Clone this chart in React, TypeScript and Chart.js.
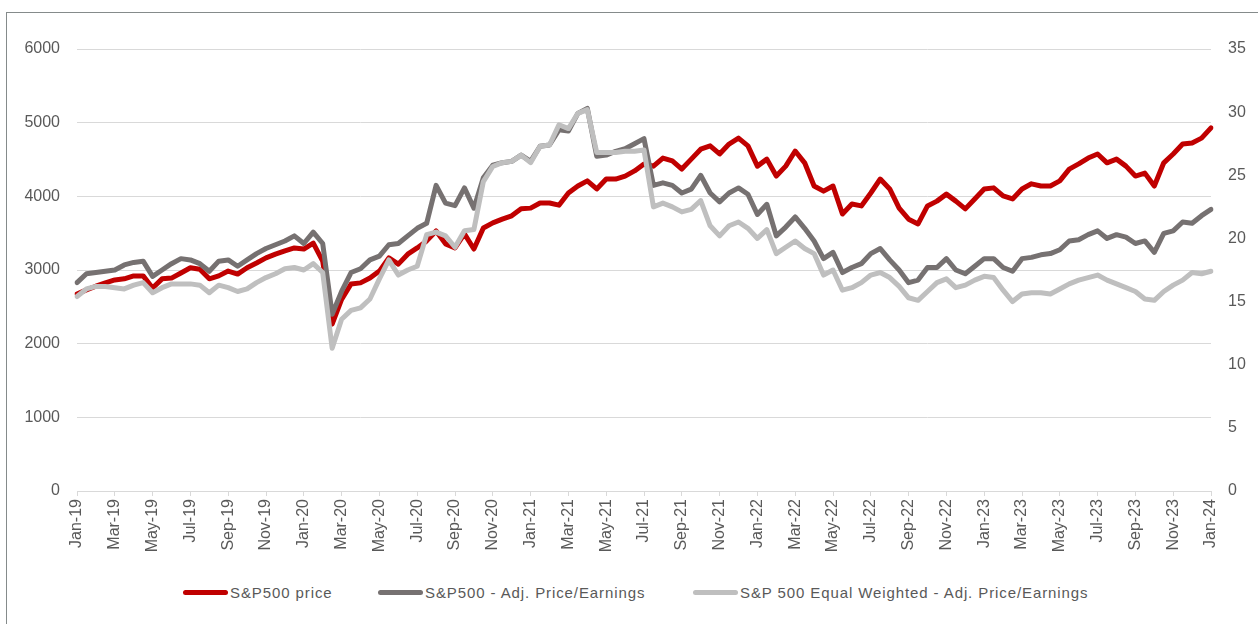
import React, { useEffect, useRef } from "react";
import { Chart, registerables } from "chart.js";

Chart.register(...registerables);

const MONTH_NAMES = ["Jan", "Feb", "Mar", "Apr", "May", "Jun", "Jul", "Aug", "Sep", "Oct", "Nov", "Dec"];
const START_YEAR = 2019;
const POINTS_PER_MONTH = 2; // observations on the 1st and 15th of each month
const N_POINTS = 121;

// Categories: semi-monthly observation dates, Jan-2019 .. Jan-2024
const DATES: string[] = Array.from({ length: N_POINTS }, (_, i) => {
  const m = Math.floor(i / POINTS_PER_MONTH);
  const y = START_YEAR + Math.floor(m / 12);
  const mm = String((m % 12) + 1).padStart(2, "0");
  return `${y}-${mm}-${i % 2 === 0 ? "01" : "15"}`;
});

const SERIES_NAMES = [
  "S&P500 price",
  "S&P500 - Adj. Price/Earnings",
  "S&P 500 Equal Weighted - Adj. Price/Earnings",
];

const SP500_PRICE = [
  2675, 2730, 2780, 2825, 2865, 2880, 2920, 2920, 2755, 2880,
  2890, 2960, 3030, 3010, 2880, 2920, 2985, 2945, 3030, 3095,
  3165, 3215, 3260, 3300, 3285, 3365, 3120, 2265, 2600, 2810,
  2825, 2890, 2985, 3165, 3080, 3215, 3300, 3395, 3530, 3355,
  3300, 3490, 3285, 3570, 3640, 3690, 3735, 3830, 3840, 3910,
  3910, 3880, 4045, 4140, 4210, 4100, 4235, 4235, 4275, 4345,
  4440, 4410, 4520, 4480, 4370, 4505, 4640, 4685, 4575, 4710,
  4790, 4685, 4410, 4505, 4275, 4410, 4615, 4455, 4140, 4070,
  4140, 3760, 3895, 3870, 4045, 4235, 4100, 3840, 3690, 3625,
  3870, 3935, 4030, 3935, 3830, 3965, 4100, 4115, 4005, 3965,
  4100, 4170, 4140, 4140, 4210, 4370, 4440, 4520, 4575, 4455,
  4505, 4410, 4275, 4315, 4140, 4455, 4575, 4710, 4725, 4790,
  4930,
];

const SP500_PE = [
  16.5, 17.2, 17.3, 17.4, 17.5, 17.9, 18.1, 18.2, 17.0, 17.5,
  18.0, 18.4, 18.3, 18.0, 17.4, 18.2, 18.3, 17.8, 18.3, 18.8,
  19.2, 19.5, 19.8, 20.2, 19.6, 20.5, 19.6, 14.0, 15.8, 17.3,
  17.6, 18.3, 18.6, 19.5, 19.6, 20.2, 20.8, 21.2, 24.2, 22.8,
  22.6, 24.0, 22.4, 24.8, 25.8, 26.0, 26.1, 26.6, 26.1, 27.3,
  27.4, 28.6, 28.5, 29.9, 30.3, 26.5, 26.6, 26.9, 27.1, 27.5,
  27.9, 24.2, 24.4, 24.2, 23.6, 23.9, 25.0, 23.6, 22.9, 23.6,
  24.0, 23.5, 21.9, 22.7, 20.2, 20.9, 21.7, 20.8, 19.8, 18.4,
  18.9, 17.3, 17.7, 18.0, 18.8, 19.2, 18.3, 17.5, 16.5, 16.7,
  17.7, 17.7, 18.4, 17.5, 17.2, 17.8, 18.4, 18.4, 17.7, 17.4,
  18.4, 18.5, 18.7, 18.8, 19.1, 19.8, 19.9, 20.3, 20.6, 20.0,
  20.3, 20.1, 19.6, 19.8, 18.9, 20.4, 20.6, 21.3, 21.2, 21.8,
  22.3,
];

const SP500_EQUAL_PE = [
  15.4, 16.0, 16.2, 16.2, 16.1, 16.0, 16.3, 16.5, 15.7, 16.1,
  16.4, 16.4, 16.4, 16.3, 15.7, 16.3, 16.1, 15.8, 16.0, 16.5,
  16.9, 17.2, 17.6, 17.7, 17.5, 18.0, 17.3, 11.3, 13.6, 14.3,
  14.5, 15.2, 16.8, 18.3, 17.1, 17.5, 17.8, 20.3, 20.5, 20.2,
  19.3, 20.6, 20.7, 24.5, 25.7, 26.0, 26.1, 26.6, 26.0, 27.3,
  27.4, 29.0, 28.7, 29.9, 30.2, 26.8, 26.8, 26.8, 26.9, 26.9,
  27.0, 22.5, 22.8, 22.5, 22.1, 22.3, 23.0, 21.0, 20.2, 21.0,
  21.3, 20.8, 20.0, 20.7, 18.8, 19.3, 19.8, 19.2, 18.8, 17.1,
  17.5, 15.9, 16.1, 16.5, 17.1, 17.3, 16.9, 16.2, 15.3, 15.1,
  15.8, 16.5, 16.8, 16.1, 16.3, 16.7, 17.0, 16.9, 15.9, 15.0,
  15.6, 15.7, 15.7, 15.6, 16.0, 16.4, 16.7, 16.9, 17.1, 16.7,
  16.4, 16.1, 15.8, 15.2, 15.1, 15.8, 16.3, 16.7, 17.3, 17.2,
  17.4,
];

const LEFT_MAX = 6000;
const LEFT_STEP = 1000;
const RIGHT_MAX = 35;
const RIGHT_STEP = 5;

const COLORS = ["#C00000", "#767171", "#BFBFBF"];
const TEXT_COLOR = "#595959";
const GRID_COLOR = "#D9D9D9";
const FONT = "'Liberation Sans', Arial, sans-serif";

function tickLabel(i: number): string | null {
  if (i % (POINTS_PER_MONTH * 2) !== 0) return null;
  const m = Math.floor(i / POINTS_PER_MONTH);
  const y = (START_YEAR + Math.floor(m / 12)) % 100;
  return `${MONTH_NAMES[m % 12]}-${String(y).padStart(2, "0")}`;
}

const LEGEND_X = [183, 378, 693];

export default function App() {
  const canvasRef = useRef<HTMLCanvasElement | null>(null);

  useEffect(() => {
    const canvas = canvasRef.current;
    if (!canvas) return;
    const chart = new Chart(canvas, {
      type: "line",
      data: {
        labels: DATES,
        datasets: [
          {
            label: SERIES_NAMES[0],
            data: SP500_PRICE,
            borderColor: COLORS[0],
            backgroundColor: COLORS[0],
            yAxisID: "y",
            order: 3,
          },
          {
            label: SERIES_NAMES[1],
            data: SP500_PE,
            borderColor: COLORS[1],
            backgroundColor: COLORS[1],
            yAxisID: "y1",
            order: 2,
          },
          {
            label: SERIES_NAMES[2],
            data: SP500_EQUAL_PE,
            borderColor: COLORS[2],
            backgroundColor: COLORS[2],
            yAxisID: "y1",
            order: 1,
          },
        ],
      },
      options: {
        responsive: false,
        animation: false,
        devicePixelRatio: 1,
        layout: { padding: { top: 49, left: 0, right: 0, bottom: 0 } },
        elements: {
          line: {
            borderWidth: 5,
            tension: 0,
            borderJoinStyle: "round",
            borderCapStyle: "round",
            fill: false,
          },
          point: { radius: 0, hoverRadius: 0 },
        },
        plugins: {
          legend: { display: false },
          tooltip: { enabled: false },
        },
        scales: {
          x: {
            type: "category",
            offset: false,
            afterFit: (scale: any) => {
              scale.height = 72;
            },
            grid: {
              drawOnChartArea: false,
              drawTicks: true,
              tickLength: 5,
              color: GRID_COLOR,
            },
            border: { display: true, color: GRID_COLOR, width: 1 },
            ticks: {
              autoSkip: false,
              minRotation: 90,
              maxRotation: 90,
              padding: 3,
              color: TEXT_COLOR,
              font: { family: FONT, size: 16 },
              callback: (_v: any, i: number) => tickLabel(i),
            },
          },
          y: {
            position: "left",
            min: 0,
            max: LEFT_MAX,
            afterFit: (scale: any) => {
              scale.width = 77;
            },
            grid: { drawTicks: false, color: GRID_COLOR, lineWidth: 1 },
            border: { display: false },
            ticks: {
              stepSize: LEFT_STEP,
              padding: 17,
              color: TEXT_COLOR,
              font: { family: FONT, size: 16 },
              callback: (v: any) => String(v),
            },
          },
          y1: {
            position: "right",
            min: 0,
            max: RIGHT_MAX,
            afterFit: (scale: any) => {
              scale.width = 47;
            },
            grid: { display: false, drawTicks: false },
            border: { display: false },
            ticks: {
              stepSize: RIGHT_STEP,
              padding: 17,
              color: TEXT_COLOR,
              font: { family: FONT, size: 16 },
              callback: (v: any) => String(v),
            },
          },
        },
      },
    } as any);
    return () => chart.destroy();
  }, []);

  return (
    <div
      style={{
        position: "fixed",
        left: 0,
        top: 0,
        width: 1258,
        height: 624,
        overflow: "hidden",
        background: "#ffffff",
      }}
    >
      <div
        style={{
          position: "absolute",
          left: 6,
          top: 12,
          width: 1300,
          height: 700,
          border: "1px solid #858b8b",
        }}
      />
      <canvas
        ref={canvasRef}
        width={1258}
        height={563}
        style={{ position: "absolute", left: 0, top: 0, width: 1258, height: 563 }}
      />
      {SERIES_NAMES.map((name, i) => (
        <div
          key={name}
          style={{
            position: "absolute",
            left: LEGEND_X[i],
            top: 582,
            height: 20,
            display: "flex",
            alignItems: "center",
            whiteSpace: "nowrap",
            fontFamily: FONT,
            fontSize: 15,
            letterSpacing: "0.9px",
            color: TEXT_COLOR,
          }}
        >
          <span
            style={{
              display: "inline-block",
              width: 45,
              height: 5,
              borderRadius: 3,
              background: COLORS[i],
            }}
          />
          <span style={{ marginLeft: 2 }}>{name}</span>
        </div>
      ))}
    </div>
  );
}
